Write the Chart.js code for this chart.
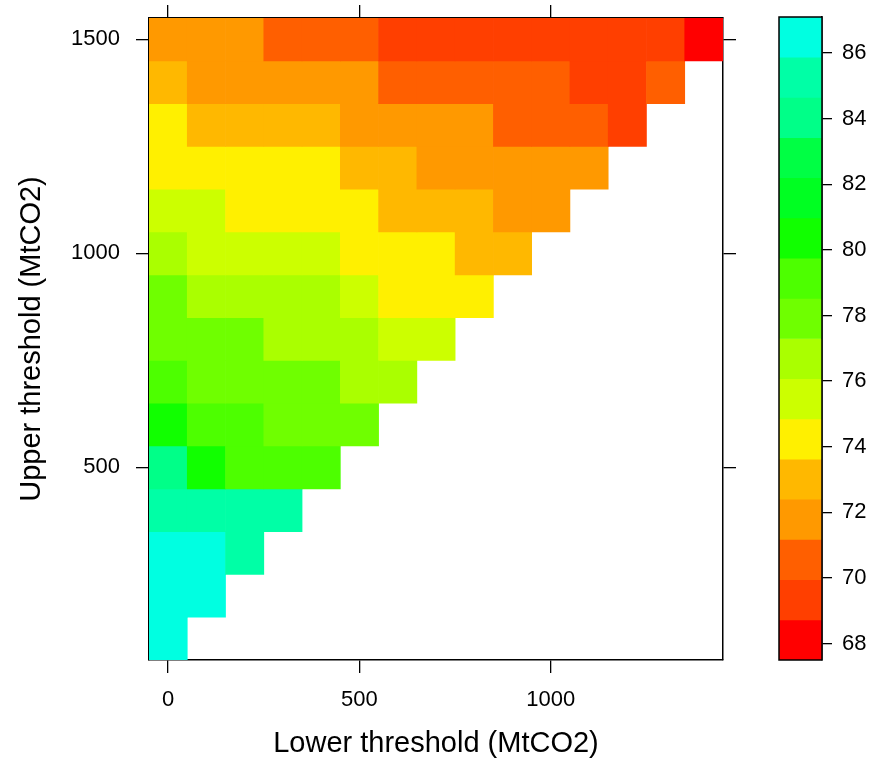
<!DOCTYPE html>
<html>
<head>
<meta charset="utf-8">
<script src="https://cdn.jsdelivr.net/npm/chart.js@4.4.1/dist/chart.umd.min.js"></script>
<style>
body { margin: 0; background: #fff; }
#wrap { position: relative; width: 885px; height: 762px; }
#heat { position: absolute; left: 0; top: 0; }
#key { position: absolute; left: 760px; top: 0; }
</style>
</head>
<body>
<div id="wrap">
  <canvas id="heat" width="760" height="762"></canvas>
  <canvas id="key" width="125" height="762"></canvas>
</div>
<script>
const lowerThresholds = [0, 100, 200, 300, 400, 500, 600, 700, 800, 900, 1000, 1100, 1200, 1300, 1400];
const upperThresholds = [100, 200, 300, 400, 500, 600, 700, 800, 900, 1000, 1100, 1200, 1300, 1400, 1500];

// one row per upper threshold (100 first), one value per lower threshold below it
const values = [
  [87.1],
  [86.9, 86.4],
  [86.6, 86.3, 85.7],
  [85.6, 85.4, 85.2, 85.0],
  [84.1, 80.6, 79.6, 79.2, 78.9],
  [80.4, 79.5, 79.0, 78.4, 78.1, 77.8],
  [79.2, 78.4, 78.1, 77.9, 77.5, 77.0, 76.6],
  [78.3, 78.0, 77.6, 77.2, 76.9, 76.5, 75.9, 75.3],
  [77.6, 77.0, 76.8, 76.6, 76.3, 75.6, 74.8, 74.5, 74.1],
  [76.4, 75.9, 75.7, 75.5, 75.2, 74.7, 74.4, 74.0, 73.3, 72.8],
  [75.3, 75.0, 74.7, 74.5, 74.3, 74.0, 73.4, 73.0, 72.6, 72.1, 71.8],
  [74.6, 74.5, 74.3, 74.1, 73.8, 73.3, 72.8, 72.2, 72.0, 71.8, 71.6, 71.4],
  [74.0, 73.4, 73.1, 72.9, 72.6, 72.2, 71.9, 71.7, 71.4, 71.0, 70.7, 70.3, 69.6],
  [72.9, 72.3, 72.1, 71.9, 71.7, 71.4, 71.1, 70.9, 70.6, 70.4, 70.1, 69.8, 69.7, 70.2],
  [72.1, 71.9, 71.6, 71.0, 70.7, 70.3, 69.9, 69.7, 69.6, 69.5, 69.4, 69.3, 69.2, 69.0, 67.5]
];

// colour key, lowest band first
const keyColors = ['#FF0000', '#FF3F00', '#FF5F00', '#FF9900', '#FFB800', '#FFF000', '#CCFF00', '#AAFF00',
  '#6FFF00', '#4DFF00', '#11FF00', '#00FF22', '#00FF44', '#00FF88', '#00FFA6', '#00FFE1'];

const xTicks = [0, 500, 1000];
const yTicks = [500, 1000, 1500];
const keyTicks = [68, 70, 72, 74, 76, 78, 80, 82, 84, 86];

Chart.defaults.font.family = "'Liberation Sans', Arial, sans-serif";
Chart.defaults.color = '#000';

const all = values.flat();
const zMin = Math.min(...all);
const zMax = Math.max(...all);
const nBands = keyColors.length;
const bandStep = (zMax - zMin) / nBands;
const breaks = keyColors.map((c, i) => zMin + i * bandStep).concat([zMax]);

const colorFor = (v) => {
  let k = Math.floor((v - zMin) / bandStep);
  if (k < 0) k = 0;
  if (k > nBands - 1) k = nBands - 1;
  return keyColors[k];
};

const half = (upperThresholds[1] - upperThresholds[0]) / 2;
const cells = [];
values.forEach((row, i) => {
  row.forEach((v, j) => {
    cells.push({x: lowerThresholds[j], y: [upperThresholds[i] - half, upperThresholds[i] + half], v: v});
  });
});

const xHalf = (lowerThresholds[1] - lowerThresholds[0]) / 2;
const xMin = lowerThresholds[0] - xHalf;
const xMax = lowerThresholds[lowerThresholds.length - 1] + xHalf;
const yMin = upperThresholds[0] - half;
const yMax = upperThresholds[upperThresholds.length - 1] + half;

const setTicks = (list) => (s) => { s.ticks = list.map(v => ({value: v})); };
const noPad = (s) => { s.paddingTop = 0; s.paddingBottom = 0; s.paddingLeft = 0; s.paddingRight = 0; };
const plain = (v) => String(v);

const tickGrid = {drawOnChartArea: false, drawTicks: true, tickLength: 13, color: '#000', lineWidth: 1.3};
const axisBorder = {display: true, color: '#000', width: 1.5};

new Chart(document.getElementById('heat'), {
  type: 'bar',
  data: {
    datasets: [{
      data: cells,
      backgroundColor: (ctx) => ctx.raw ? colorFor(ctx.raw.v) : '#fff',
      borderWidth: 0,
      barPercentage: 1,
      categoryPercentage: 1
    }]
  },
  options: {
    responsive: false,
    animation: false,
    layout: {padding: {top: 5, right: 24, bottom: 0, left: 0}},
    plugins: {legend: {display: false}, tooltip: {enabled: false}},
    scales: {
      x: {
        type: 'linear', position: 'bottom', min: xMin, max: xMax, offset: false, z: 1,
        afterBuildTicks: setTicks(xTicks),
        ticks: {font: {size: 22}, padding: 14, color: '#000', callback: plain},
        grid: Object.assign({offset: false}, tickGrid),
        border: axisBorder,
        title: {display: true, text: 'Lower threshold (MtCO2)', font: {size: 29}, color: '#000', padding: {top: 0, bottom: 1}},
        afterFit: (s) => { s.height = 102; noPad(s); }
      },
      x2: {
        type: 'linear', position: 'top', min: xMin, max: xMax, offset: false, z: 1,
        afterBuildTicks: setTicks(xTicks),
        ticks: {display: false},
        grid: Object.assign({offset: false}, tickGrid),
        border: axisBorder,
        afterFit: (s) => { s.height = 13; noPad(s); }
      },
      y: {
        type: 'linear', position: 'left', min: yMin, max: yMax, z: 1,
        afterBuildTicks: setTicks(yTicks),
        ticks: {font: {size: 22}, padding: 16, color: '#000', callback: plain},
        grid: tickGrid,
        border: axisBorder,
        title: {display: true, text: 'Upper threshold (MtCO2)', font: {size: 29}, color: '#000', padding: {top: 15, bottom: 0}},
        afterFit: (s) => { s.width = 149; noPad(s); }
      },
      y2: {
        type: 'linear', position: 'right', min: yMin, max: yMax, z: 1,
        afterBuildTicks: setTicks(yTicks),
        ticks: {display: false},
        grid: tickGrid,
        border: axisBorder,
        afterFit: (s) => { s.width = 13; noPad(s); }
      }
    }
  }
});

const framePlugin = {
  id: 'frame',
  afterDatasetsDraw(chart) {
    const {ctx, chartArea: a} = chart;
    ctx.save();
    ctx.strokeStyle = '#000';
    ctx.lineWidth = 1.5;
    ctx.strokeRect(a.left, a.top, a.right - a.left, a.bottom - a.top);
    ctx.restore();
  }
};

new Chart(document.getElementById('key'), {
  type: 'bar',
  data: {
    labels: ['key'],
    datasets: [{
      data: keyColors.map((c, i) => ({x: 'key', y: [breaks[i], breaks[i + 1]]})),
      backgroundColor: keyColors,
      borderWidth: 0,
      barPercentage: 1,
      categoryPercentage: 1
    }]
  },
  options: {
    responsive: false,
    animation: false,
    layout: {padding: {top: 17, right: 0, bottom: 102, left: 19}},
    plugins: {legend: {display: false}, tooltip: {enabled: false}},
    scales: {
      x: {type: 'category', display: false},
      y: {
        type: 'linear', position: 'right', min: zMin, max: zMax, z: 1,
        afterBuildTicks: setTicks(keyTicks),
        ticks: {font: {size: 22}, padding: 10, color: '#000', callback: plain},
        grid: {drawOnChartArea: false, drawTicks: true, tickLength: 10, color: '#000', lineWidth: 1.3},
        border: axisBorder,
        afterFit: (s) => { s.width = 63; noPad(s); }
      }
    }
  },
  plugins: [framePlugin]
});
</script>
</body>
</html>
